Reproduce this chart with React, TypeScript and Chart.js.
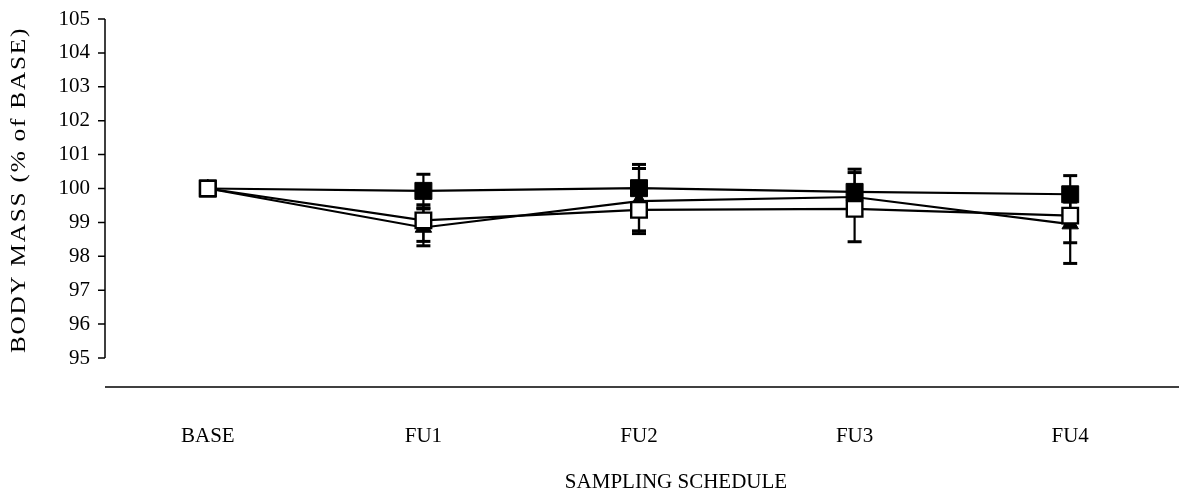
import React, { useEffect, useRef } from "react";
import { Chart, registerables } from "chart.js";

Chart.register(...registerables);

// Sampling points along the x axis
const categories = ["BASE", "FU1", "FU2", "FU3", "FU4"];
// Labelled y ticks (body mass, % of BASE)
const yTicks = [95, 96, 97, 98, 99, 100, 101, 102, 103, 104, 105];

// Filled squares
const filledSquare = [100, 99.93, 100.01, 99.9, 99.83];
const filledSquareErrUp = [0, 0.49, 0.7, 0.57, 0.55];
const filledSquareErrDown = [0, 0.5, 0.7, 0.57, 0.55];

// Open squares
const openSquare = [100, 99.06, 99.37, 99.4, 99.2];
const openSquareErrUp = [0, 0.46, 0.5, 0.5, 0.4];
const openSquareErrDown = [0, 0.62, 0.62, 0.97, 0.8];

// Filled triangles
const triangle = [100, 98.85, 99.63, 99.75, 98.95];
const triangleErrUp = [0, 0.55, 0.96, 0.82, 1.0];
const triangleErrDown = [0, 0.54, 0.96, 0.5, 1.16];

const FONT = "'Liberation Serif', 'Times New Roman', serif";
const AXIS_X = 105;

const errorBars: Record<number, { up: number[]; down: number[] }> = {
  0: { up: openSquareErrUp, down: openSquareErrDown },
  1: { up: filledSquareErrUp, down: filledSquareErrDown },
  2: { up: triangleErrUp, down: triangleErrDown },
};

const errorBarPlugin = {
  id: "errorBars",
  beforeDatasetsDraw(chart: any) {
    const { ctx } = chart;
    const yScale = chart.scales.y;
    ctx.save();
    ctx.strokeStyle = "#000";
    chart.data.datasets.forEach((ds: any, di: number) => {
      const meta = chart.getDatasetMeta(di);
      const eb = errorBars[di];
      if (!eb) return;
      meta.data.forEach((pt: any, i: number) => {
        const v = ds.data[i];
        const up = eb.up[i];
        const down = eb.down[i];
        const x = pt.x;
        const cap = 7;
        const draw = (val: number) => {
          const yv = yScale.getPixelForValue(val);
          ctx.lineWidth = 2.2;
          ctx.beginPath();
          ctx.moveTo(x, yScale.getPixelForValue(v));
          ctx.lineTo(x, yv);
          ctx.stroke();
          ctx.lineWidth = 3;
          ctx.beginPath();
          ctx.moveTo(x - cap, yv);
          ctx.lineTo(x + cap, yv);
          ctx.stroke();
        };
        if (up > 0) draw(v + up);
        if (down > 0) draw(v - down);
      });
    });
    ctx.restore();
  },
};

const axesPlugin = {
  id: "axesAndTitles",
  afterDraw(chart: any) {
    const { ctx, chartArea } = chart;
    const yScale = chart.scales.y;
    ctx.save();
    ctx.strokeStyle = "#000";
    ctx.lineWidth = 1.5;
    // y axis line spans the labelled range only, with short outward ticks
    ctx.beginPath();
    ctx.moveTo(AXIS_X, yScale.getPixelForValue(yTicks[yTicks.length - 1]));
    ctx.lineTo(AXIS_X, yScale.getPixelForValue(yTicks[0]));
    yTicks.forEach((t) => {
      const py = yScale.getPixelForValue(t);
      ctx.moveTo(AXIS_X - 7, py);
      ctx.lineTo(AXIS_X, py);
    });
    ctx.stroke();
    // x axis line
    ctx.beginPath();
    ctx.moveTo(AXIS_X, chartArea.bottom);
    ctx.lineTo(1179, chartArea.bottom);
    ctx.stroke();

    ctx.fillStyle = "#000";
    ctx.font = `21px ${FONT}`;
    ctx.textAlign = "center";
    ctx.textBaseline = "middle";
    ctx.fillText("SAMPLING SCHEDULE", 676, 482);

    ctx.translate(19, 190);
    ctx.rotate(-Math.PI / 2);
    ctx.scale(1.2, 1);
    (ctx as any).letterSpacing = "1.5px";
    ctx.fillText("BODY MASS (% of BASE)", 0, 0);
    ctx.restore();
  },
};

export default function App() {
  const canvasRef = useRef<HTMLCanvasElement | null>(null);

  useEffect(() => {
    if (!canvasRef.current) return;
    const chart = new Chart(canvasRef.current, {
      type: "line",
      data: {
        labels: categories,
        datasets: [
          {
            label: "open",
            data: openSquare,
            order: 0,
            borderColor: "#000",
            borderWidth: 2.2,
            pointStyle: "rect",
            pointRadius: 11,
            pointBorderWidth: 2.4,
            pointBackgroundColor: "#fff",
            pointBorderColor: "#000",
            tension: 0,
          },
          {
            label: "filled",
            data: filledSquare,
            order: 1,
            borderColor: "#000",
            borderWidth: 2.2,
            pointStyle: "rect",
            pointRadius: 12,
            pointBorderWidth: 1,
            pointBackgroundColor: "#000",
            pointBorderColor: "#000",
            tension: 0,
          },
          {
            label: "triangle",
            data: triangle,
            order: 2,
            borderColor: "#000",
            borderWidth: 2.2,
            pointStyle: "triangle",
            pointRadius: 9.5,
            pointBorderWidth: 1,
            pointBackgroundColor: "#000",
            pointBorderColor: "#000",
            tension: 0,
          },
        ],
      },
      options: {
        responsive: false,
        animation: false,
        devicePixelRatio: 1,
        layout: { autoPadding: false, padding: { left: 0, right: 6, top: 19, bottom: 0 } },
        plugins: {
          legend: { display: false },
          tooltip: { enabled: false },
        },
        scales: {
          x: {
            type: "category",
            offset: true,
            grid: { display: false, drawTicks: false },
            border: { display: false },
            ticks: {
              color: "#000",
              font: { family: FONT, size: 21 },
              padding: 37,
              maxRotation: 0,
            },
            afterFit(scale: any) {
              scale.height = 103;
              scale.paddingLeft = 0;
              scale.paddingRight = 0;
            },
          },
          y: {
            min: 94.145,
            max: 105,
            afterBuildTicks(scale: any) {
              scale.ticks = yTicks.map((v) => ({ value: v }));
            },
            grid: { display: false, drawTicks: false },
            border: { display: false },
            ticks: {
              color: "#000",
              font: { family: FONT, size: 21 },
              padding: 10,
            },
            afterFit(scale: any) {
              scale.width = 100;
              scale.paddingTop = 0;
              scale.paddingBottom = 0;
            },
          },
        },
      },
      plugins: [errorBarPlugin, axesPlugin],
    });
    return () => chart.destroy();
  }, []);

  return (
    <div style={{ position: "fixed", left: 0, top: 0, width: 1184, height: 490, background: "#fff" }}>
      <canvas ref={canvasRef} width={1184} height={490} />
    </div>
  );
}
